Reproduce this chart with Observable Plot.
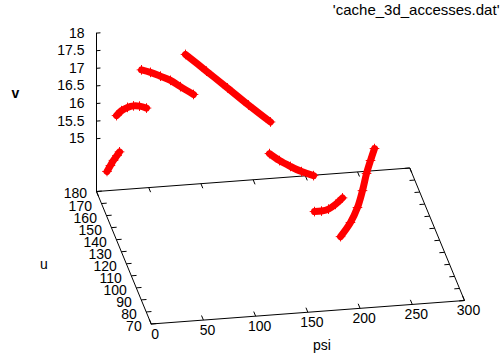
<!DOCTYPE html>
<html>
<head>
<meta charset="utf-8">
<script src="https://cdn.jsdelivr.net/npm/d3@7"></script>
<script src="https://cdn.jsdelivr.net/npm/@observablehq/plot@0.6"></script>
<style>
  html, body { margin: 0; padding: 0; background: #fff; }
  #chart svg { display: block; }
</style>
</head>
<body>
<div id="chart"></div>
<script>
// ---- axis ranges and tick labels ----
const psiRange = [0, 300];
const uRange = [70, 180];
const vRange = [15, 18];
const vBase = 13.5;            // base plane level (ticslevel 0.5)
const psiTicks = [0, 50, 100, 150, 200, 250, 300];
const uTicks = [70, 80, 90, 100, 110, 120, 130, 140, 150, 160, 170, 180];
const vTicks = [15, 15.5, 16, 16.5, 17, 17.5, 18];
const keyLabel = "'cache_3d_accesses.dat'";

// ---- data: seven curve segments (psi, u, v) ----
const curveNames = ["A", "B", "C", "D", "E", "F", "G"];
const curveU = [170, 175, 180, 160, 140, 100, 90];
const psiA = [5.3, 8.6, 11.5, 14.9, 17.3];
const vA   = [14.40, 14.56, 14.70, 14.83, 14.93];
const psiB = [16.8, 21.6, 27.3, 33.1, 38.8, 45.5];
const vB   = [15.79, 15.92, 16.00, 16.03, 16.01, 15.94];
const psiC = [43.1, 51.7, 61.3, 70.9, 80.4, 92.9];
const vC   = [16.86, 16.77, 16.64, 16.50, 16.30, 16.05];
const psiD = [75.7, 95.8, 115.9, 136.0, 157.1];
const vD   = [17.91, 17.39, 16.87, 16.34, 15.81];
const psiE = [146.6, 156.2, 166.7, 177.3, 188.8];
const vE   = [15.62, 15.40, 15.21, 15.04, 14.90];
const psiF = [228.1, 224.3, 220.5, 216.6, 211.8, 205.1, 195.6];
const vF   = [16.95, 16.62, 16.26, 15.78, 15.31, 14.90, 14.52];
const psiG = [165.9, 172.6, 179.3, 186.0, 192.7];
const vG   = [15.64, 15.64, 15.68, 15.80, 15.97];

const psiSets = [psiA, psiB, psiC, psiD, psiE, psiF, psiG];
const vSets = [vA, vB, vC, vD, vE, vF, vG];
const rows = curveNames.flatMap((name, i) =>
  psiSets[i].map((p, j) => ({curve: name, psi: p, u: curveU[i], v: vSets[i][j]})));

// ---- 3D view (screen pixels) ----
const view = {ox: 96, oy: 191, psiX: 1.0443, psiY: -0.0783, uX: -0.4973, uY: -1.2045, vY: -35.2};
function px(psi, u, v) { return view.ox + view.psiX * (psi - psiRange[0]) + view.uX * (u - uRange[1]); }
function py(psi, u, v) { return view.oy + view.psiY * (psi - psiRange[0]) + view.uY * (u - uRange[1]) + view.vY * (v - vBase); }

const [p0, p1] = psiRange, [u0, u1] = uRange;
const base = [[p0, u0], [p1, u0], [p1, u1], [p0, u1], [p0, u0]].map(([p, u]) => ({psi: p, u, v: vBase}));
const vAxis = [{psi: p0, u: u1, v: vBase}, {psi: p0, u: u1, v: vRange[1]}];

const psiTickLen = 3.8, uTickLen = 5, vTickLen = 3.8;
const psiTickSegs = psiTicks.flatMap(p => [
  {a: [p, u0, vBase], b: [p, u0 + psiTickLen, vBase]},
  {a: [p, u1, vBase], b: [p, u1 - psiTickLen, vBase]}]);
const uTickSegs = uTicks.flatMap(u => [
  {a: [p0, u, vBase], b: [p0 + uTickLen, u, vBase]},
  {a: [p1, u, vBase], b: [p1 - uTickLen, u, vBase]}]);
const vTickSegs = vTicks.map(v => ({a: [p0, u1, v], b: [p0 + vTickLen, u1, v]}));
const tickSegs = [...psiTickSegs, ...uTickSegs, ...vTickSegs];

const font = "'Liberation Sans', Arial, Helvetica, sans-serif";
const X = d => px(d.psi, d.u, d.v), Y = d => py(d.psi, d.u, d.v);

const chart = Plot.plot({
  width: 503,
  height: 358,
  margin: 0,
  style: {fontFamily: font, background: "#fff"},
  x: {domain: [0, 503], range: [0, 503], axis: null},
  y: {domain: [0, 358], range: [0, 358], axis: null},
  marks: [
    Plot.line(base, {x: X, y: Y, stroke: "black", strokeWidth: 1}),
    Plot.line(vAxis, {x: X, y: Y, stroke: "black", strokeWidth: 1}),
    Plot.link(tickSegs, {
      x1: d => px(...d.a), y1: d => py(...d.a),
      x2: d => px(...d.b), y2: d => py(...d.b),
      stroke: "black", strokeWidth: 1
    }),
    Plot.text(vTicks, {
      x: v => px(p0, u1, v), y: v => py(p0, u1, v), text: v => String(v),
      textAnchor: "end", dx: -12, fontSize: 14, fill: "black"
    }),
    Plot.text(uTicks, {
      x: u => px(p0, u, vBase), y: u => py(p0, u, vBase), text: u => String(u),
      textAnchor: "end", dx: -9.5, dy: 2.5, fontSize: 14, fill: "black"
    }),
    Plot.text(psiTicks, {
      x: p => px(p, u0, vBase), y: p => py(p, u0, vBase), text: p => String(p),
      textAnchor: "middle", dx: 4, dy: 10.5, fontSize: 14, fill: "black"
    }),
    Plot.text(["psi"], {x: () => px(150, u0, vBase), y: () => py(150, u0, vBase), text: d => d, dx: 14, dy: 33, fontSize: 14, fill: "black"}),
    Plot.text(["u"], {x: () => px(p0, 125, vBase), y: () => py(p0, 125, vBase), text: d => d, dx: -80, dy: 7, fontSize: 14, fill: "black"}),
    Plot.text(["v"], {x: () => px(p0, u1, 16.5), y: () => py(p0, u1, 16.5), text: d => d, dx: -81, dy: 7.6, fontSize: 14, fontWeight: "bold", fill: "black"}),
    Plot.text([keyLabel], {x: () => 499, y: () => 10, text: d => d, textAnchor: "end", fontSize: 15, fill: "black"}),
    Plot.line(rows, {x: X, y: Y, z: "curve", stroke: "#ff0000", strokeWidth: 7, curve: "catmull-rom", strokeLinecap: "round"}),
    Plot.dot(rows, {x: X, y: Y, symbol: "plus", r: 3.2, stroke: "#ff0000", strokeWidth: 1})
  ]
});
document.getElementById("chart").appendChild(chart);
</script>
</body>
</html>
